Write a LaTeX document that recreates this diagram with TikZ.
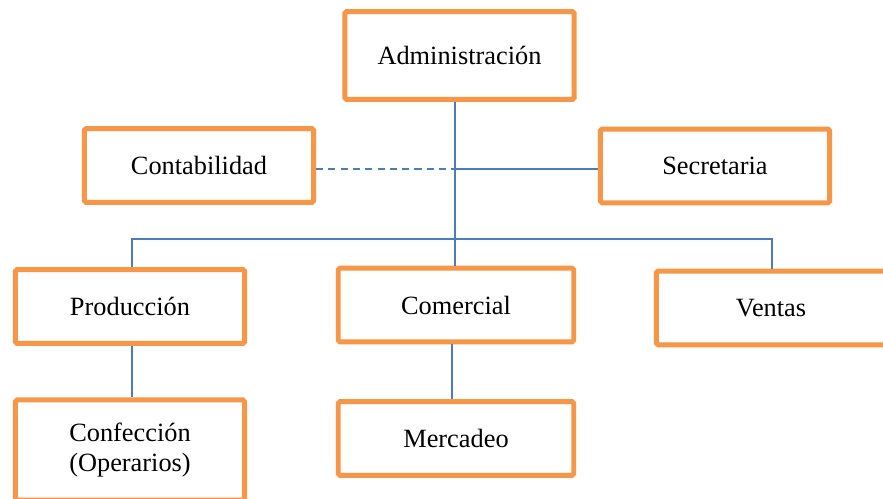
\documentclass[tikz,border=0pt]{standalone}
\usepackage{fontspec}
\setmainfont{Liberation Serif}
\usetikzlibrary{calc}
\definecolor{boxorange}{HTML}{F79646}
\definecolor{lineblue}{HTML}{4A7EBB}

\begin{document}
\begin{tikzpicture}[
      x=0.02cm, y=-0.02cm,
      unit box/.style ={draw=boxorange, line width=2.8pt, rounded corners=1pt,
        fill=white, align=center, inner sep=0pt,
        minimum width=#1, minimum height=42pt,
        font=\fontsize{15}{17.5}\selectfont},
      unit box/.default=130.5pt,
      link/.style={draw=lineblue, line width=0.85pt},
      soft link/.style={link, dash pattern=on 4pt off 3pt}]
    \useasboundingbox (0,0) rectangle (883,499);
    \clip (0,0) rectangle (883,499);
    % boxes
    \node[unit box, minimum height=50pt] (admin) at (459.5,55.5) {Administración};
    \node[unit box] (conta) at (199,165.5) {Contabilidad};
    \node[unit box] (secre) at (715,166) {Secretaria};
    \node[unit box=134pt] (comer) at (456,305) {Comercial};
    \node[unit box] (prod) at (130,306.5) {Producción};
    \node[unit box] (ventas) at (771,308) {Ventas};
    \node[unit box, minimum height=57pt] (confe) at (130,450) {Confección\\(Operarios)};
    \node[unit box=134pt] (merca) at (456,438.5) {Mercadeo};
    % connectors
    \coordinate (trunk) at (455,169);
    \coordinate (bus) at (455,239);
    \draw[link] (admin.south -| trunk) -- (bus);
    \draw[link] (bus) -- (comer.north -| bus);
    \draw[soft link] (conta.east |- trunk) -- (trunk);
    \draw[link] (trunk) -- (secre.west |- trunk);
    \draw[link] ($(prod.north)+(2,0)$) |- (bus) -| ($(ventas.north)+(1,0)$);
    \draw[link] ($(prod.south)+(2,0)$) -- ($(confe.north)+(2,0)$);
    \draw[link] ($(comer.south)+(-4,0)$) -- ($(merca.north)+(-4,0)$);
\end{tikzpicture}
\end{document}
